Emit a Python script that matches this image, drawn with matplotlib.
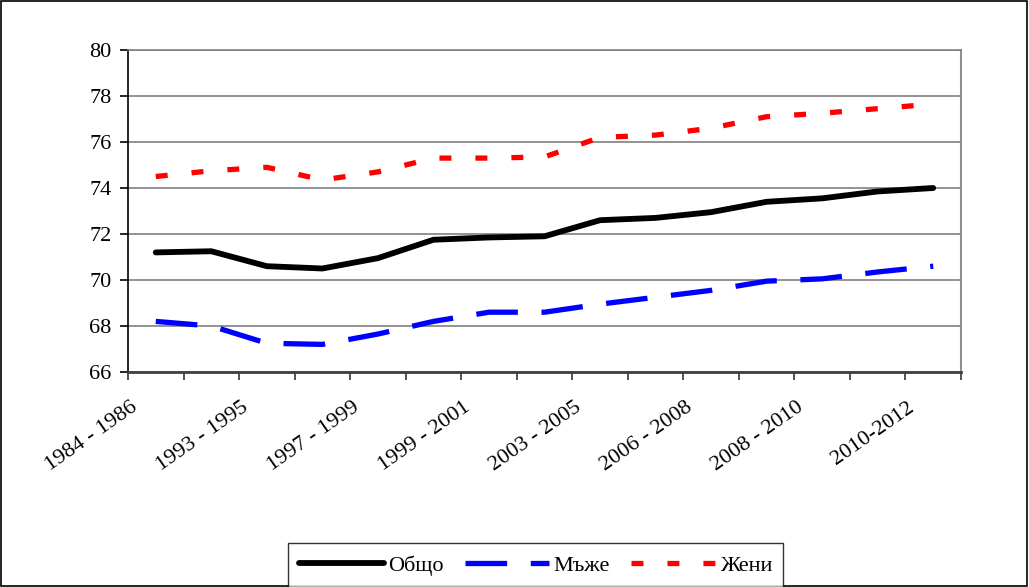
import numpy as np
import matplotlib
matplotlib.use("Agg")
import matplotlib.pyplot as plt
import matplotlib.transforms as mtransforms
from matplotlib.patches import Rectangle

plt.rcParams['font.family'] = ['Liberation Serif', 'DejaVu Serif']
plt.rcParams['lines.scale_dashes'] = False

# periods (only every other one is labelled on the axis)
periods = ["1984 - 1986", "1992 - 1994", "1993 - 1995", "1995 - 1997",
           "1997 - 1999", "1998 - 2000", "1999 - 2001", "2001 - 2003",
           "2003 - 2005", "2005 - 2007", "2006 - 2008", "2007 - 2009",
           "2008 - 2010", "2009 - 2011", "2010-2012"]

total = [71.2, 71.25, 70.6, 70.5, 70.95, 71.75, 71.85, 71.9,
         72.6, 72.7, 72.95, 73.4, 73.55, 73.85, 74.0]
men = [68.2, 68.0, 67.25, 67.2, 67.65, 68.2, 68.6, 68.6,
       68.95, 69.25, 69.55, 69.95, 70.05, 70.35, 70.6]
women = [74.5, 74.75, 74.9, 74.35, 74.7, 75.3, 75.3, 75.35,
         76.2, 76.3, 76.6, 77.1, 77.25, 77.45, 77.65]

fs = 16

fig = plt.figure(figsize=(10.29, 5.87), dpi=100)
fig.patches.append(Rectangle((0.001, 0.001), 0.997, 0.997, transform=fig.transFigure,
                             fill=False, edgecolor='black', linewidth=1.2))

ax = fig.add_axes([128/1029, 1 - 372/587, (961 - 128)/1029, (372 - 50)/587])
x = np.arange(len(periods))

ax.plot(x, total, color='black', lw=4.2, solid_capstyle='round', label='Общо')
ax.plot(x, men, color='#0000ff', lw=3.8, dashes=(30, 17), dash_capstyle='butt', label='Мъже')
ax.plot(x, women, color='#ff0000', lw=3.8, dashes=(8.6, 17.3), dash_capstyle='butt', label='Жени')

ax.set_xlim(-0.5, len(periods) - 0.5)
ax.set_ylim(66, 80)
ax.set_yticks(np.arange(66, 81, 2))
ax.yaxis.grid(True, color='#808080', lw=1.2)
ax.set_axisbelow(True)

# tick marks between categories, labels on every other category
ax.set_xticks(np.arange(-0.5, len(periods), 1))
ax.set_xticklabels([])
ax.tick_params(axis='x', length=6, width=1.2, color='#333333')
ax.tick_params(axis='y', length=6, width=1.2, labelsize=fs, pad=6)

lab_tr = ax.get_xaxis_transform() + mtransforms.ScaledTranslation(-15/100, -26/100, fig.dpi_scale_trans)
for xi in x[::2]:
    ax.text(xi, 0, periods[xi], transform=lab_tr, rotation=35, ha='right', va='top',
            fontsize=fs, clip_on=False)

ax.spines['left'].set_color('black')
ax.spines['left'].set_linewidth(1.2)
ax.spines['bottom'].set_color('#404040')
ax.spines['bottom'].set_linewidth(2)
ax.spines['right'].set_color('#909090')
ax.spines['right'].set_linewidth(1.5)
ax.spines['top'].set_color('#808080')
ax.spines['top'].set_linewidth(1.2)

leg = fig.legend(loc='upper left', bbox_to_anchor=(288/1029, 1 - 543/587), ncol=3,
                 fontsize=fs, handlelength=3.8, handletextpad=0.2, columnspacing=0.95,
                 frameon=True, fancybox=False, borderpad=0.5, borderaxespad=0,
                 handleheight=0.9)
leg.get_frame().set_edgecolor('black')
leg.get_frame().set_linewidth(1.0)

fig.savefig('out.png', dpi=100)
